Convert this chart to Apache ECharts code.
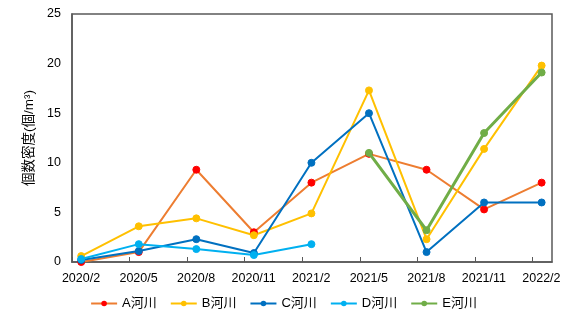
<!DOCTYPE html>
<html><head><meta charset="utf-8">
<script src="https://cdn.jsdelivr.net/npm/echarts@6/dist/echarts.min.js"></script>
<style>html,body{margin:0;padding:0;background:#fff}#c{width:567px;height:324px}</style>
</head><body><div id="c"></div>
<script>
const categories = ['2020/2','2020/5','2020/8','2020/11','2021/2','2021/5','2021/8','2021/11','2022/2'];
const seriesA = [0.0, 1.0, 9.3, 3.0, 8.0, 10.9, 9.3, 5.3, 8.0];
const seriesB = [0.6, 3.6, 4.4, 2.7, 4.9, 17.3, 2.3, 11.4, 19.8];
const seriesC = [0.2, 1.1, 2.3, 0.9, 10.0, 15.0, 1.0, 6.0, 6.0];
const seriesD = [0.3, 1.8, 1.3, 0.7, 1.8, null, null, null, null];
const seriesE = [null, null, null, null, null, 11.0, 3.2, 13.0, 19.1];
const names = ['A河川','B河川','C河川','D河川','E河川'];
const yTicks = [0, 5, 10, 15, 20, 25];

const xMin = -0.16, xMax = 8.18;
const font = '"Liberation Sans", "Noto Sans CJK JP", sans-serif';
function pts(arr){ return arr.map((v,i)=>[i,v]); }
const styles = [
  {line:'#ED7D31', dot:'#FF0000', w:2},
  {line:'#FFC000', dot:'#FFC000', w:2},
  {line:'#0070C0', dot:'#0070C0', w:2},
  {line:'#00B0F0', dot:'#00B0F0', w:2},
  {line:'#70AD47', dot:'#70AD47', w:3}
];
const data = [seriesA, seriesB, seriesC, seriesD, seriesE];
const chart = echarts.init(document.getElementById('c'), null, {renderer:'canvas'});
chart.setOption({
  animation:false,
  textStyle:{fontFamily:font},
  grid:{left:72, right:15, top:14, bottom:62, show:true, borderColor:'#595959', borderWidth:1.5, backgroundColor:'transparent'},
  legend:{
    bottom:9, left:'center', itemWidth:26, itemHeight:7, itemGap:13,
    textStyle:{fontSize:13, color:'#000', fontFamily:font},
    data: names
  },
  xAxis:{
    type:'value', min:xMin, max:xMax, interval:1,
    axisLine:{onZero:false, lineStyle:{color:'#595959', width:1.5}},
    axisTick:{show:true, inside:true, length:5, lineStyle:{color:'#595959'}},
    splitLine:{show:false},
    axisLabel:{
      color:'#000', fontSize:12.5, margin:10, padding:[0,0,0,18],
      showMaxLabel:false,
      formatter:(v)=>{ const k=Math.round(v-xMin); return categories[k]!==undefined && Math.abs(v-xMin-k)<0.01 ? categories[k] : ''; }
    }
  },
  yAxis:{
    type:'value', min:yTicks[0], max:yTicks[yTicks.length-1], interval:5,
    name:'個数密度(個/m³)', nameLocation:'middle', nameGap:34,
    nameTextStyle:{color:'#000', fontSize:13.5, fontFamily:font},
    axisLine:{show:true, onZero:false, lineStyle:{color:'#595959', width:1.5}},
    axisTick:{show:false},
    splitLine:{show:false},
    axisLabel:{color:'#000', fontSize:12.5, margin:11}
  },
  series: data.map((arr,i)=>({
    name:names[i], type:'line', data:pts(arr),
    symbol:'circle', symbolSize:7, connectNulls:false,
    lineStyle:{color:styles[i].line, width:styles[i].w},
    itemStyle:{color:styles[i].dot, borderColor:styles[i].dot},
    z: i===4 ? 3 : 2
  }))
});
</script></body></html>
